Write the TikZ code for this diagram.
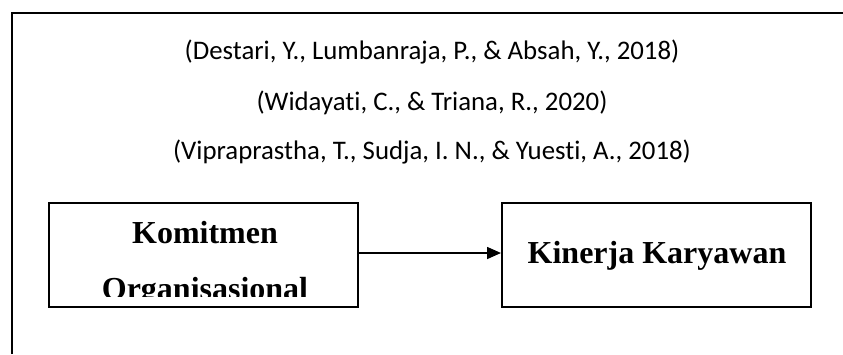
\documentclass[tikz,border=0pt]{standalone}
\usepackage{fontspec}
\setmainfont{Liberation Serif}
\newfontfamily\citefont[Ligatures=NoCommon]{Carlito}
\usetikzlibrary{arrows.meta}
\tikzset{
  cite/.style={font=\citefont\fontsize{26.8}{30}\selectfont, inner sep=0pt},
  varbox/.style={draw, line width=2pt, minimum width=309pt, minimum height=104pt, inner sep=0pt},
  vartext/.style={font=\bfseries\fontsize{32}{36}\selectfont, inner sep=0pt, anchor=base},
  link/.style={line width=1.6pt, -{Triangle[length=14pt,width=12pt]}}
}
\begin{document}
\begin{tikzpicture}[x=1pt,y=-1pt]
  \useasboundingbox (0,0) rectangle (843,354);
  % open frame: top and left edges only
  \draw[line width=1.5pt] (12,354) -- (12,13) -- (843,13);
  % references
  \node[cite] (c1) at (432,52) {(Destari, Y., Lumbanraja, P., \& Absah, Y., 2018)};
  \node[cite] (c2) at (432,103) {(Widayati, C., \& Triana, R., 2020)};
  \node[cite] (c3) at (432,152) {(Vipraprastha, T., Sudja, I. N., \& Yuesti, A., 2018)};
  % variables
  \node[varbox] (km) at (203.5,255) {};
  \node[varbox] (kk) at (656.5,255) {};
  \begin{scope}
    \clip (km.north west) rectangle (358,296);
    \node[vartext] (km1) at (205,243) {Komitmen};
    \node[vartext] (km2) at (205,299) {Organisasional};
  \end{scope}
  \node[vartext] (kk1) at (657,263) {Kinerja Karyawan};
  % relation
  \draw[link] (km.east |- 0,253) -- (kk.west |- 0,253);
\end{tikzpicture}
\end{document}
